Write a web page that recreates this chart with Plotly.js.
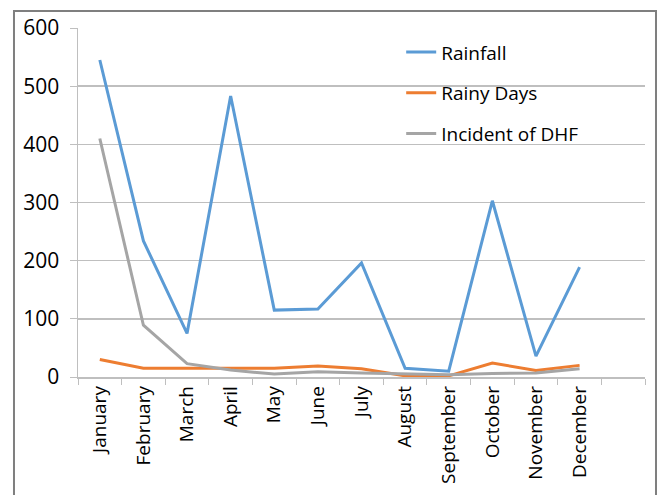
<!DOCTYPE html>
<html>
<head>
<meta charset="utf-8">
<script src="https://cdn.plot.ly/plotly-3.0.1.min.js"></script>
<style>html,body{margin:0;padding:0;background:#fff;}#chart{width:659px;height:495px;}</style>
</head>
<body>
<div id="chart"></div>
<script>
const months = ["January","February","March","April","May","June","July","August","September","October","November","December"];
const rainfall = [545, 234, 75, 483, 115, 117, 196, 15, 10, 303, 36, 189];
const rainyDays = [30, 15, 15, 15, 15, 19, 14, 2, 2, 24, 11, 20];
const dhf = [410, 89, 23, 12, 5, 9, 7, 5, 4, 6, 7, 14];
const seriesNames = ["Rainfall", "Rainy Days", "Incident of DHF"];
const colors = ["#5B9BD5", "#ED7D31", "#A5A5A5"];
const values = [rainfall, rainyDays, dhf];

const traces = values.map((v, i) => ({
  type: "scatter", mode: "lines", x: months, y: v, name: seriesNames[i],
  legendgroup: "g" + i,
  line: {color: colors[i], width: 3}
}));

const fontFam = "'Open Sans', sans-serif";
const layout = {
  width: 659, height: 495,
  margin: {l: 78, r: 14, t: 28, b: 118},
  paper_bgcolor: "#fff", plot_bgcolor: "#fff",
  font: {family: fontFam, size: 18, color: "#000"},
  showlegend: true,
  legend: {x: 0.57, y: 0.985, xanchor: "left", yanchor: "top", traceorder: "grouped", tracegroupgap: 13,
           font: {family: fontFam, size: 19, color: "#000"}, bgcolor: "rgba(0,0,0,0)"},
  xaxis: {type: "category", categoryorder: "array", categoryarray: months.concat([" "]),
          range: [-0.5, 12.5], tickson: "boundaries", ticks: "outside", ticklen: 6, tickcolor: "#bfbfbf",
          showgrid: false, showline: true, linecolor: "#bfbfbf", linewidth: 1.5, tickangle: -90,
          tickfont: {family: fontFam, size: 19}, zeroline: false, fixedrange: true},
  yaxis: {range: [0, 600], dtick: 100, ticks: "outside", ticklen: 7, tickcolor: "#bfbfbf",
          gridcolor: "#bfbfbf", gridwidth: 1.5, showline: true, linecolor: "#bfbfbf", linewidth: 1.5,
          zeroline: false, tickfont: {family: fontFam, size: 21}, ticklabelstandoff: 6, fixedrange: true},
  shapes: [{type: "rect", xref: "paper", yref: "paper", x0: -0.1129, x1: 1.0194, y0: -0.45, y1: 1.0487,
            line: {color: "#7f7f7f", width: 2}, fillcolor: "rgba(0,0,0,0)", layer: "below"}]
};
Plotly.newPlot("chart", traces, layout, {displayModeBar: false, staticPlot: true});
</script>
</body>
</html>
